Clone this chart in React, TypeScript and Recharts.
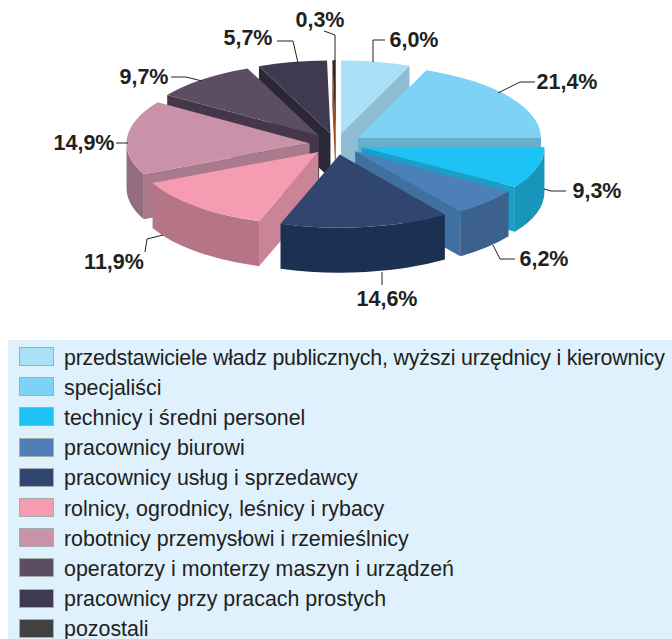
import React from "react";
import { PieChart, Pie, Legend } from "recharts";

const categories = [
  "przedstawiciele władz publicznych, wyższi urzędnicy i kierownicy",
  "specjaliści",
  "technicy i średni personel",
  "pracownicy biurowi",
  "pracownicy usług i sprzedawcy",
  "rolnicy, ogrodnicy, leśnicy i rybacy",
  "robotnicy przemysłowi i rzemieślnicy",
  "operatorzy i monterzy maszyn i urządzeń",
  "pracownicy przy pracach prostych",
  "pozostali",
];
// Printed percentages, as shown on the labels.
const printedLabels = ["6,0%", "21,4%", "9,3%", "6,2%", "14,6%", "11,9%", "14,9%", "9,7%", "5,7%", "0,3%"];
// Slice shares as drawn in the picture (the artwork's 21,4% wedge is visibly narrower than its label).
const drawnShares = [6.1, 18.9, 9.2, 6.1, 15.0, 12.8, 16.4, 9.2, 6.1, 0.3];

const topColors = ["#a9e1f9", "#7dd2f6", "#1dc3f4", "#4d7fb8", "#31466f", "#f59bb2", "#c992a8", "#5d4d63", "#3f3a4f", "#2a2a2a"];
const edgeColors = ["#8fbcd2", "#68aecd", "#1a9fc8", "#40709f", "#263a60", "#cb8497", "#a87a8c", "#463649", "#2b2738", "#9c4a1c"];
const rimColors = ["#8fbcd2", "#68aecd", "#1995bb", "#3b618c", "#1c3052", "#b67586", "#936d7e", "#463649", "#2b2738", "#2a2a2a"];
const legendColors = ["#a9e1f9", "#7dd2f6", "#1dc3f4", "#4d7fb8", "#31466f", "#f59bb2", "#c992a8", "#5d4d63", "#3f3a4f", "#414141"];

// Painter's order of the slices, back to front.
const paintOrder = [9, 8, 7, 0, 6, 1, 5, 2, 3, 4];

const labelCentres = [
  [414, 40], [567, 82], [597, 191], [544, 259], [387, 299],
  [114, 262], [84, 143], [144, 77], [248, 38], [320, 20],
];
const leaders = [
  "373,62 373,40 385,40",
  "498,93 520,82 535,82",
  "544,189 551,191 566,191",
  "493,245 500,259 515,259",
  "382,272 382,285",
  "163,235 147,239 145,252",
  "128,143 116,143",
  "202,81 186,77 171,77",
  "298,63 293,41 277,41",
  "335,62 335,35 324,31",
];

const chartData = categories.map((name, i) => ({ name, value: drawnShares[i], idx: i }));

const SQUASH = 0.4;
const DEPTH = 45;
const EXPLODE = 0.145;
const rad = Math.PI / 180;

function sliceShape(target: number) {
  return function Slice(props: any) {
    const idx = props.payload?.idx ?? props.idx;
    if (idx !== target) return <g />;
    const { cx, cy, outerRadius: R, startAngle, endAngle, midAngle } = props;
    const ry = R * SQUASH;
    const ox = cx + R * EXPLODE * Math.cos(midAngle * rad);
    const oy = cy - ry * EXPLODE * Math.sin(midAngle * rad);
    const pt = (a: number, d = 0): [number, number] => [ox + R * Math.cos(a * rad), oy - ry * Math.sin(a * rad) + d];
    const arc = (a: number, b: number, d = 0) => {
      const e = pt(b, d);
      return `A${R} ${ry} 0 ${Math.abs(a - b) > 180 ? 1 : 0} ${b < a ? 1 : 0} ${e[0]} ${e[1]}`;
    };
    const [sx, sy] = pt(startAngle);
    const [ex, ey] = pt(endAngle);
    // Clockwise sweep: startAngle > endAngle in the library's convention.
    const clock = (a: number) => ((90 - a) % 360 + 360) % 360;
    const cs = clock(startAngle);
    const ce = clock(endAngle) || 360;
    const parts: React.ReactNode[] = [];
    if (cs >= 180 || target === 9) {
      parts.push(<path key="s" fill={edgeColors[target]} d={`M${ox} ${oy}L${sx} ${sy}L${sx} ${sy + DEPTH}L${ox} ${oy + DEPTH}Z`} />);
    }
    if (ce <= 180) {
      parts.push(<path key="e" fill={edgeColors[target]} d={`M${ox} ${oy}L${ex} ${ey}L${ex} ${ey + DEPTH}L${ox} ${oy + DEPTH}Z`} />);
    }
    const from = Math.max(cs, 90);
    const to = Math.min(ce, 270);
    if (from < to) {
      const a = 90 - from;
      const b = 90 - to;
      const p = pt(a);
      const q = pt(b);
      parts.push(
        <path
          key="r"
          fill={rimColors[target]}
          d={`M${p[0]} ${p[1]}${arc(a, b)}L${q[0]} ${q[1] + DEPTH}${arc(b, a, DEPTH)}Z`}
        />
      );
    }
    parts.push(
      <path key="t" fill={topColors[target]} d={`M${ox} ${oy}L${sx} ${sy}${arc(startAngle, endAngle)}Z`} />
    );
    return <g>{parts}</g>;
  };
}

function emptyShape() {
  return <g />;
}

function renderLabel(props: any) {
  const i = props.index;
  const [x, y] = labelCentres[i];
  return (
    <g key={i}>
      <polyline points={leaders[i]} fill="none" stroke="#231f20" strokeWidth={1} />
      <text
        x={x}
        y={y}
        textAnchor="middle"
        dominantBaseline="central"
        fontFamily="'Liberation Sans', Arial, sans-serif"
        fontWeight={700}
        fontSize={21.5}
        fill="#231f20"
      >
        {printedLabels[i]}
      </text>
    </g>
  );
}

function LegendPanel() {
  return (
    <div style={{ position: "relative", width: 664, height: 299, background: "#dff1fc" }}>
      {categories.map((c, i) => (
        <React.Fragment key={c}>
          <div
            style={{
              position: "absolute",
              left: 11,
              top: 7 + i * 30.2,
              width: 33,
              height: 17,
              boxSizing: "content-box",
              background: legendColors[i],
              border: "1px solid #a3aead",
            }}
          />
          <div
            style={{
              position: "absolute",
              left: 56,
              top: 8 + i * 30.1,
              height: 20,
              lineHeight: "20px",
              whiteSpace: "nowrap",
              fontFamily: "'Liberation Sans', Arial, sans-serif",
              fontSize: 21.4,
              letterSpacing: i === 0 ? -0.2 : 0,
              color: "#231f20",
            }}
          >
            {c}
          </div>
        </React.Fragment>
      ))}
    </div>
  );
}

export default function App() {
  return (
    <div style={{ position: "absolute", left: 0, top: 0, width: 672, height: 639, background: "#fff", overflow: "hidden" }}>
      <PieChart width={672} height={639} margin={{ top: 0, right: 0, bottom: 0, left: 0 }}>
        {paintOrder.map((t) => {
          const S = sliceShape(t);
          return (
            <Pie
              key={t}
              data={chartData}
              dataKey="value"
              nameKey="name"
              cx={336}
              cy={144}
              innerRadius={0}
              outerRadius={183}
              startAngle={90}
              endAngle={-270}
              isAnimationActive={false}
              legendType="none"
              labelLine={false}
              shape={S}
              activeShape={S}
              inactiveShape={S}
            />
          );
        })}
        <Pie
          data={chartData}
          dataKey="value"
          cx={336}
          cy={144}
          outerRadius={183}
          startAngle={90}
          endAngle={-270}
          isAnimationActive={false}
          legendType="none"
          labelLine={false}
          label={renderLabel}
          shape={emptyShape}
          activeShape={emptyShape}
          inactiveShape={emptyShape}
        />
        <Legend
          content={<LegendPanel />}
          wrapperStyle={{ position: "absolute", left: 8, top: 340, width: 664, height: 299, bottom: "auto", margin: 0 }}
        />
      </PieChart>
    </div>
  );
}
